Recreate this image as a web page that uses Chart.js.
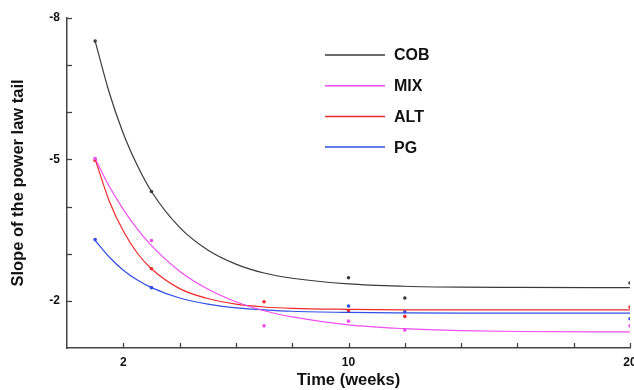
<!DOCTYPE html>
<html>
<head>
  <title>Slope of the power law tail</title>
  <script src="https://cdn.jsdelivr.net/npm/chart.js"></script>
  <style>
    body {
      margin: 0;
      padding: 0;
      background: #fff;
    }
    #wrap {
      width: 634px;
      height: 390px;
      position: relative;
    }
  </style>
</head>
<body>
  <div id="wrap">
    <canvas id="slopeChart" width="634" height="390"></canvas>
  </div>

  <script>
    // measured points (weeks)
    const dataWeeks = [1, 3, 7, 10, 12, 20];
    const cobPoints = [-7.51, -4.32, null, -2.49, -2.06, -2.38];
    const mixPoints = [-5.02, -3.28, -1.47, -1.57, -1.38, -1.47];
    const altPoints = [-4.98, -2.68, -1.98, -1.79, -1.67, -1.87];
    const pgPoints = [-3.30, -2.28, null, -1.89, -1.77, -1.62];

    // fitted curves
    const fitWeeks = [1, 1.5, 2, 2.5, 3, 4, 5, 6, 7, 8, 10, 12, 14, 16, 20];
    const cobFit = [-7.51, -6.42, -5.55, -4.87, -4.32, -3.56, -3.08, -2.78, -2.59, -2.48, -2.36, -2.31, -2.29, -2.285, -2.28];
    const mixFit = [-5.02, -4.43, -3.94, -3.52, -3.17, -2.63, -2.25, -1.98, -1.79, -1.66, -1.49, -1.41, -1.37, -1.35, -1.34];
    const altFit = [-5.00, -4.12, -3.48, -3.01, -2.68, -2.26, -2.05, -1.93, -1.87, -1.84, -1.82, -1.81, -1.81, -1.81, -1.81];
    const pgFit = [-3.28, -2.93, -2.65, -2.44, -2.28, -2.06, -1.93, -1.85, -1.81, -1.78, -1.755, -1.745, -1.74, -1.74, -1.74];

    const seriesNames = ['COB', 'MIX', 'ALT', 'PG'];
    const seriesColors = ['#3a3a3a', '#f04ef0', '#ee2a2a', '#2f4fe6'];
    const xLabelTicks = [2, 10, 20];
    const yLabelTicks = [-8, -5, -2];

    const pointSets = [cobPoints, mixPoints, altPoints, pgPoints];
    const fitSets = [cobFit, mixFit, altFit, pgFit];

    function toXY(xs, ys) {
      return xs.map((x, i) => ({ x: x, y: ys[i] })).filter(p => p.y !== null);
    }

    const datasets = [];
    seriesNames.forEach((name, i) => {
      datasets.push({
        label: name,
        data: toXY(fitWeeks, fitSets[i]),
        showLine: true,
        borderColor: seriesColors[i],
        borderWidth: 1.2,
        pointRadius: 0,
        cubicInterpolationMode: 'monotone',
        fill: false
      });
    });
    seriesNames.forEach((name, i) => {
      datasets.push({
        label: name + ' data',
        data: toXY(dataWeeks, pointSets[i]),
        showLine: false,
        pointRadius: 1.8,
        pointBorderWidth: 0,
        pointBackgroundColor: seriesColors[i],
        borderColor: seriesColors[i]
      });
    });

    const tickFont = { family: 'Liberation Sans, Arial, sans-serif', size: 12, weight: 'bold' };
    const titleFont = { family: 'Liberation Sans, Arial, sans-serif', size: 16.5, weight: 'bold' };

    // ticks pointing into the plot
    const innerTicks = {
      id: 'innerTicks',
      afterDraw(chart) {
        const ctx = chart.ctx;
        const area = chart.chartArea;
        const xs = chart.scales.x, ys = chart.scales.y;
        ctx.save();
        ctx.strokeStyle = '#444';
        ctx.lineWidth = 1.3;
        xs.ticks.forEach((t, i) => {
          if (t.value === xs.min) return;
          const px = Math.round(xs.getPixelForTick(i)) + 0.5;
          ctx.beginPath();
          ctx.moveTo(px, area.bottom);
          ctx.lineTo(px, area.bottom - 5);
          ctx.stroke();
        });
        ys.ticks.forEach((t, i) => {
          if (t.value === ys.max) return;
          const py = Math.round(ys.getPixelForTick(i)) + 0.5;
          ctx.beginPath();
          ctx.moveTo(area.left, py);
          ctx.lineTo(area.left + 5, py);
          ctx.stroke();
        });
        ctx.restore();
      }
    };

    // legend inside the plot, upper middle
    const innerLegend = {
      id: 'innerLegend',
      afterDraw(chart) {
        const ctx = chart.ctx;
        ctx.save();
        ctx.font = 'bold 16px "Liberation Sans", Arial, sans-serif';
        ctx.textBaseline = 'middle';
        seriesNames.forEach((name, i) => {
          const y = 55 + i * 30.7;
          ctx.strokeStyle = seriesColors[i];
          ctx.lineWidth = 1.5;
          ctx.beginPath();
          ctx.moveTo(325, y);
          ctx.lineTo(385, y);
          ctx.stroke();
          ctx.fillStyle = '#111';
          ctx.fillText(name, 394, y + 1);
        });
        ctx.restore();
      }
    };

    new Chart(document.getElementById('slopeChart').getContext('2d'), {
      type: 'scatter',
      data: { datasets: datasets },
      options: {
        responsive: false,
        animation: false,
        layout: { padding: { top: 18, right: 3, left: 0, bottom: 0 } },
        plugins: {
          legend: { display: false },
          tooltip: { enabled: false }
        },
        scales: {
          x: {
            type: 'linear',
            min: 0,
            max: 20,
            grid: { display: false, drawTicks: false },
            border: { display: true, color: '#444', width: 1.5 },
            ticks: {
              stepSize: 2,
              autoSkip: false,
              maxRotation: 0,
              padding: 7,
              color: '#111',
              font: tickFont,
              callback: v => xLabelTicks.includes(v) ? String(v) : ''
            },
            title: {
              display: true,
              text: 'Time (weeks)',
              color: '#111',
              font: titleFont,
              padding: { top: 0, bottom: 0 }
            },
            afterFit(scale) {
              scale.height = 42;
              scale.paddingLeft = 0;
              scale.paddingRight = 0;
            }
          },
          y: {
            type: 'linear',
            min: -8,
            max: -1,
            reverse: true,
            grid: { display: false, drawTicks: false },
            border: { display: true, color: '#444', width: 1.5 },
            ticks: {
              stepSize: 1,
              autoSkip: false,
              padding: 7,
              color: '#111',
              font: tickFont,
              callback: v => yLabelTicks.includes(v) ? String(v) : ''
            },
            title: {
              display: true,
              text: 'Slope of the power law tail',
              color: '#111',
              font: titleFont,
              padding: { top: 9, bottom: 0 }
            },
            afterFit(scale) {
              scale.width = 67;
              scale.paddingTop = 0;
              scale.paddingBottom = 0;
            }
          }
        }
      },
      plugins: [innerTicks, innerLegend]
    });
  </script>
</body>
</html>
